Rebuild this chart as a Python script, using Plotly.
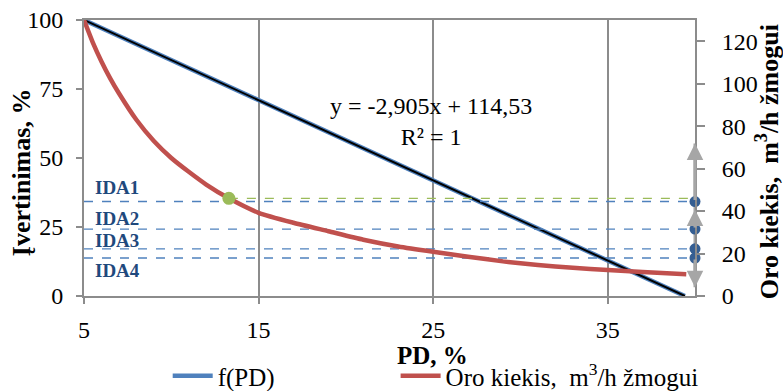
import plotly.graph_objects as go

# ---------------- data ----------------
pd_x = [5, 6, 7, 8, 9, 10, 12, 15, 20, 25, 30, 35, 39.42]
f_pd = [100, 97.1, 94.2, 91.3, 88.4, 85.5, 79.7, 71.0, 56.5, 42.0, 27.4, 12.9, 0]

trend_x = [5, 39.42]
trend_y = [100, 0]

air_x = [5, 5.5, 6, 6.5, 7, 8, 9, 10, 11, 12, 13.3, 15, 17, 19, 21, 23, 25, 27, 29, 31, 33, 35, 37, 39.5]
air_y = [130, 119.5, 110.5, 102.5, 95.5, 83, 73, 65, 58.5, 52.5, 46, 39.2, 34.5, 30.5, 26.5, 23.3, 20.8, 18.5, 16.3, 14.6, 13.3, 12.2, 11.3, 10.3]

ida_names = ["IDA1", "IDA2", "IDA3", "IDA4"]
ida_values = [44.5, 31.5, 22.2, 17.9]
ida_label_y = [51.2, 36.7, 26.3, 12.2]

green_point_x = 13.3
green_point_y = 46.0

x_range = [5, 40]
y_range = [0, 100]
y2_range = [0, 130]

arrow_tails = [44.5, 31.5, 17.9]
arrow_heads = [71.8, 40.8, 4.1]

x_ticks = [5, 15, 25, 35]
y_ticks = [0, 25, 50, 75, 100]
y2_ticks = [0, 20, 40, 60, 80, 100, 120]

# ---------------- style ----------------
FONT = "Liberation Serif, Times New Roman, serif"
GRAY = "#8C8C8C"
BLUE = "#4F81BD"
RED = "#C0504D"
GREEN = "#9BBB59"
DOT = "#355E92"
IDA_TXT = "#1F497D"

fig = go.Figure()

# dashed IDA lines (right axis)
for v in ida_values:
    fig.add_trace(go.Scatter(x=x_range, y=[v, v], yaxis="y2", mode="lines",
                             line=dict(color=BLUE, width=1.3, dash="dash"),
                             showlegend=False, hoverinfo="skip"))
fig.add_trace(go.Scatter(x=[green_point_x, x_range[1]], y=[green_point_y, green_point_y], yaxis="y2",
                         mode="lines", line=dict(color=GREEN, width=1.3, dash="dash"),
                         showlegend=False, hoverinfo="skip"))

# f(PD)
fig.add_trace(go.Scatter(x=pd_x, y=f_pd, mode="lines", name="f(PD)", legend="legend",
                         line=dict(color=BLUE, width=4.5)))
# trendline
fig.add_trace(go.Scatter(x=trend_x, y=trend_y, mode="lines", showlegend=False,
                         line=dict(color="black", width=2)))
# air amount
fig.add_trace(go.Scatter(x=air_x, y=air_y, yaxis="y2", mode="lines", legend="legend2",
                         name="Oro kiekis,  m<sup>3</sup>/h žmogui",
                         line=dict(color=RED, width=4.5, shape="spline", smoothing=0.6)))

# gray vertical bar at right
fig.add_trace(go.Scatter(x=[x_range[1], x_range[1]], y=[min(arrow_heads), max(arrow_heads)], yaxis="y2",
                         mode="lines", line=dict(color="#A6A6A6", width=3),
                         showlegend=False, hoverinfo="skip", cliponaxis=False))

# green point
fig.add_trace(go.Scatter(x=[green_point_x], y=[green_point_y], yaxis="y2", mode="markers",
                         marker=dict(color=GREEN, size=13), showlegend=False, cliponaxis=False))
# IDA dots
fig.add_trace(go.Scatter(x=[x_range[1]] * len(ida_values), y=ida_values, yaxis="y2", mode="markers",
                         marker=dict(color=DOT, size=11), showlegend=False, cliponaxis=False))

annotations = []
for t, h in zip(arrow_tails, arrow_heads):
    annotations.append(dict(x=x_range[1], y=h, xref="x", yref="y2",
                            ax=x_range[1], ay=t, axref="x", ayref="y2",
                            showarrow=True, arrowhead=2, arrowsize=1.1, arrowwidth=3,
                            arrowcolor="#A6A6A6", text=""))

for name, ly in zip(ida_names, ida_label_y):
    annotations.append(dict(x=5.5, y=ly, xref="x", yref="y2", text="<b>%s</b>" % name,
                            showarrow=False, xanchor="left", yanchor="middle",
                            font=dict(family=FONT, size=19, color=IDA_TXT)))

annotations.append(dict(x=24.86, y=63.3, xref="x", yref="y", showarrow=False,
                        text="y = -2,905x + 114,53<br>R² = 1", align="center",
                        xanchor="center", yanchor="middle",
                        font=dict(family=FONT, size=24, color="black")))

annotations.append(dict(x=-0.103, y=0.449, xref="paper", yref="paper", showarrow=False,
                        text="<b>Įvertinimas, %</b>", textangle=-90,
                        xanchor="center", yanchor="middle",
                        font=dict(family=FONT, size=26, color="black")))
annotations.append(dict(x=1.12, y=0.486, xref="paper", yref="paper", showarrow=False,
                        text="<b>Oro kiekis,  m<sup>3</sup>/h žmogui</b>", textangle=-90,
                        xanchor="center", yanchor="middle",
                        font=dict(family=FONT, size=26, color="black")))
annotations.append(dict(x=0.571, y=-0.214, xref="paper", yref="paper", showarrow=False,
                        text="<b>PD, %</b>", xanchor="center", yanchor="middle",
                        font=dict(family=FONT, size=25, color="black")))

legend_common = dict(orientation="h", yanchor="middle", xanchor="left",
                     font=dict(family=FONT, size=25, color="black"),
                     bgcolor="rgba(0,0,0,0)", itemwidth=40)

fig.update_layout(
    width=783, height=391,
    margin=dict(l=84, r=88, t=20, b=95, autoexpand=False),
    paper_bgcolor="white", plot_bgcolor="white",
    font=dict(family=FONT, size=24, color="black"),
    showlegend=True,
    legend=dict(x=0.137, y=-0.29, **legend_common),
    legend2=dict(x=0.51, y=-0.29, **legend_common),
    xaxis=dict(range=x_range, tickvals=x_ticks, showgrid=True, gridcolor=GRAY, gridwidth=1.5,
               showline=True, linecolor=GRAY, linewidth=2, mirror=True,
               ticks="outside", ticklen=6, tickcolor=GRAY, tickwidth=1.5,
               ticklabelstandoff=5, zeroline=False, automargin=False,
               tickfont=dict(family=FONT, size=24)),
    yaxis=dict(range=y_range, tickvals=y_ticks, showgrid=False,
               showline=True, linecolor=GRAY, linewidth=2,
               ticks="outside", ticklen=6, tickcolor=GRAY, tickwidth=1.5,
               ticklabelstandoff=8, zeroline=False, automargin=False,
               tickfont=dict(family=FONT, size=24)),
    yaxis2=dict(range=y2_range, tickvals=y2_ticks, overlaying="y", side="right", showgrid=False,
                showline=True, linecolor=GRAY, linewidth=2,
                ticks="outside", ticklen=8, tickcolor=GRAY, tickwidth=1.5,
                ticklabelstandoff=12, zeroline=False, automargin=False,
                tickfont=dict(family=FONT, size=24)),
    annotations=annotations,
)

fig.write_html("out.html")
